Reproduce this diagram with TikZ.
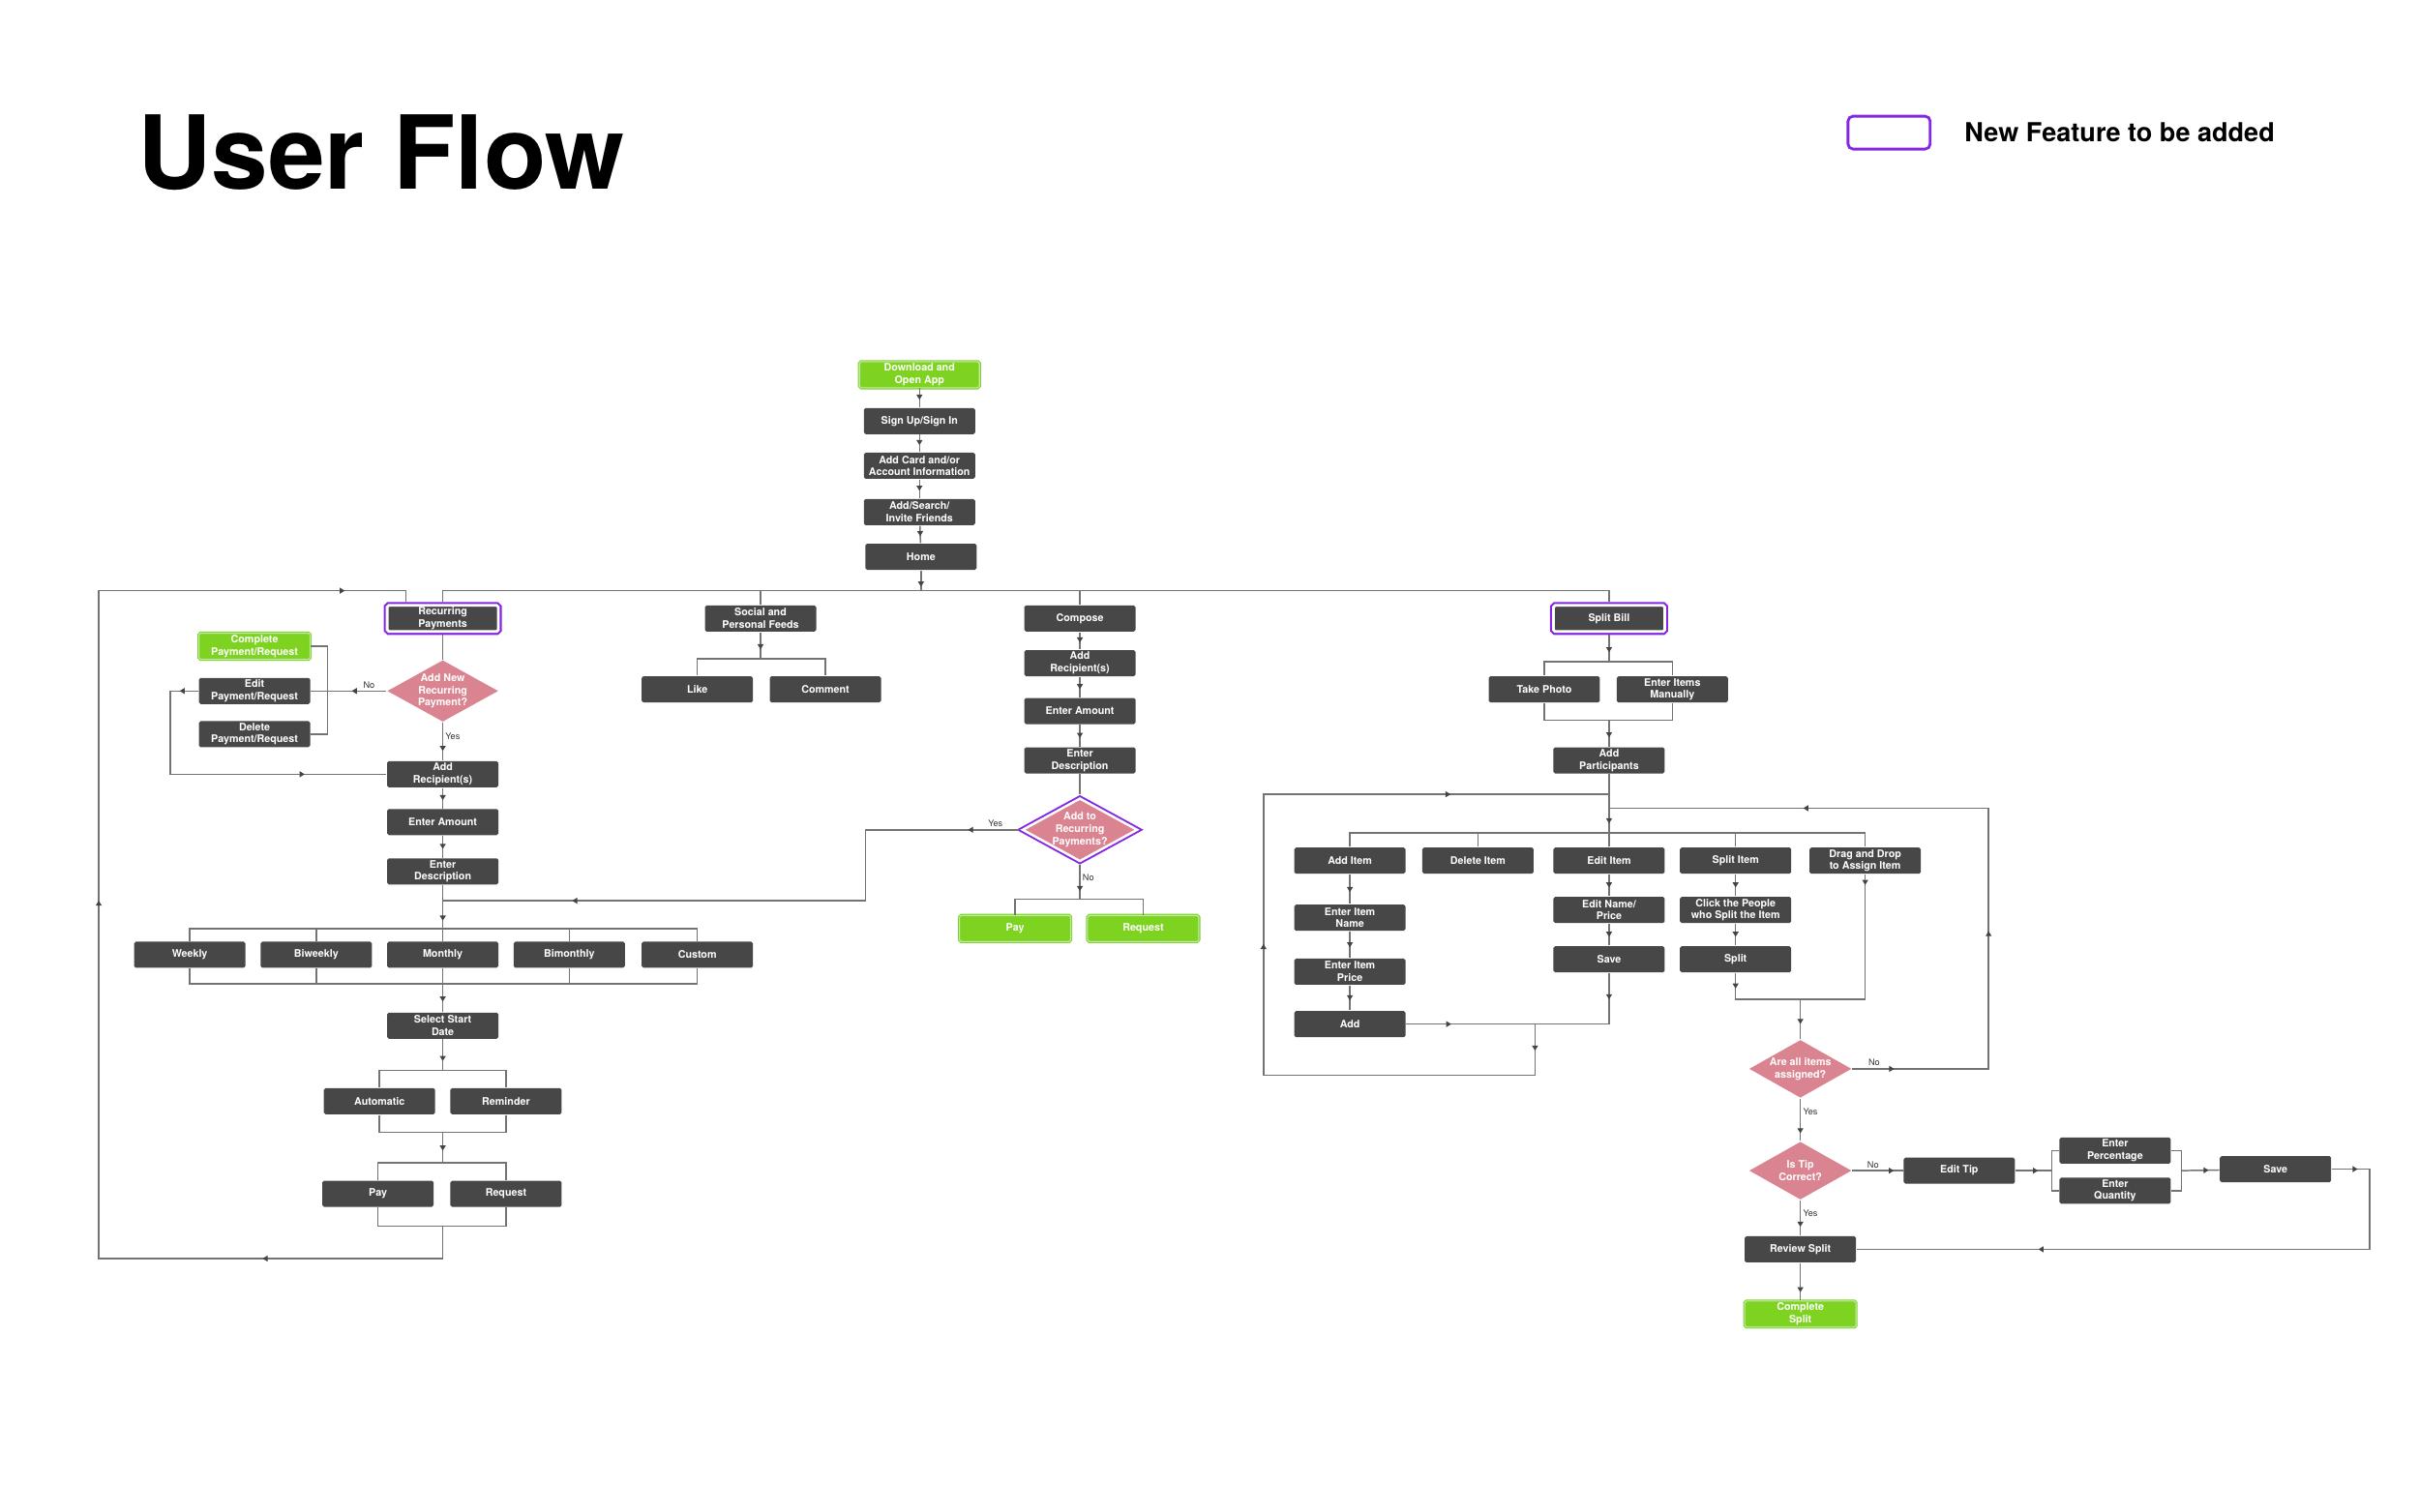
\documentclass[tikz,border=0pt]{standalone}
\usepackage{fontspec}
\setmainfont{TeX Gyre Heros}
\usepackage{tikz}
\usetikzlibrary{positioning,arrows.meta,shapes.geometric,calc,decorations.markings}
\definecolor{boxgray}{RGB}{71,71,71}
\definecolor{linegray}{RGB}{115,115,115}
\definecolor{tipgray}{RGB}{68,68,68}
\definecolor{flowgreen}{RGB}{126,211,33}
\definecolor{greenedge}{RGB}{128,210,50}
\definecolor{greenlt}{RGB}{196,236,160}
\definecolor{featpurple}{RGB}{132,38,226}
\definecolor{askpink}{RGB}{218,132,145}
\newcommand{\boxfont}{\fontsize{3.05}{3.6}\selectfont\bfseries}
\newcommand{\lblfont}{\fontsize{2.6}{3}\selectfont}
\tikzset{
    stepbox/.style={rectangle,rounded corners=0.5pt,fill=boxgray,text=white,font=\boxfont,align=center,minimum width=1.15cm,minimum height=0.27cm,inner sep=0pt},
    donebox/.style={stepbox,fill=flowgreen,draw=greenedge,double=greenlt,line width=0.3pt,double distance=0.3pt},
    newbox/.style={stepbox,preaction={draw=featpurple,line width=2pt},draw=white,line width=0.8pt,outer sep=1pt},
    ask/.style={diamond,aspect=1.8,fill=askpink,text=white,font=\boxfont,align=center,minimum width=1.06cm,minimum height=0.6cm,inner sep=0pt},
    newask/.style={ask,preaction={draw=featpurple,line width=1.8pt},draw=white,line width=0.7pt,outer sep=0.9pt},
    flow/.style={draw=linegray,line width=0.42pt},
    tip/.style={postaction={decorate,decoration={markings,mark=at position #1 with {\arrow{Triangle[length=1.5pt,width=1.7pt,color=tipgray]}}}}},
    lbl/.style={font=\lblfont,text=black!80,inner sep=0.6pt},
}

\begin{document}
\begin{tikzpicture}[x=0.015944cm,y=-0.015944cm]
\useasboundingbox (0,0) rectangle (1568,980);

% title and legend
\node[anchor=west,inner sep=0pt,font=\fontsize{30}{30}\selectfont\bfseries] (title) at (89,99) {User Flow};
\node[draw=featpurple,line width=0.8pt,rounded corners=1.5pt,minimum width=0.85cm,minimum height=0.34cm,inner sep=0pt] (legend) at (1224.5,86) {};
\node[anchor=west,inner sep=0pt,font=\fontsize{7.7}{8}\selectfont\bfseries] (legendtext) at (1273,86) {New Feature to be added};

% entry column
\node[donebox,minimum width=1.24cm] (dl) at (596,243) {Download and\\Open App};
\node[stepbox] (signin)  at (596,273) {Sign Up/Sign In};
\node[stepbox] (card)    at (596,302) {Add Card and/or\\Account Information};
\node[stepbox] (friends) at (596,332) {Add/Search/\\Invite Friends};
\node[stepbox] (home)    at (597,361) {Home};
\coordinate (bus) at (597,383);

\draw[flow,tip=0.6] (dl) -- (signin);
\draw[flow,tip=0.6] (signin) -- (card);
\draw[flow,tip=0.6] (card) -- (friends);
\draw[flow,tip=0.6] (friends) -- (home);
\draw[flow,tip=0.8] (home) -- (bus);

% main branches
\node[newbox]  (recur)   at (287,401)  {Recurring\\Payments};
\node[stepbox] (social)  at (493,401)  {Social and\\Personal Feeds};
\node[stepbox] (compose) at (700,401)  {Compose};
\node[newbox]  (split)   at (1043,401) {Split Bill};

\draw[flow] (recur.north) -- (recur.north |- bus) -- (split.north |- bus) -- (split.north);
\draw[flow] (social.north) -- (social.north |- bus);
\draw[flow] (compose.north) -- (compose.north |- bus);

% recurring payments
\node[ask]      (newrec) at (287,448) {Add New\\Recurring\\Payment?};
\node[donebox]  (donepr) at (165,419) {Complete\\Payment/Request};
\node[stepbox]  (editpr) at (165,448) {Edit\\Payment/Request};
\node[stepbox]  (delpr)  at (165,476) {Delete\\Payment/Request};
\node[stepbox]  (recip)  at (287,502) {Add\\Recipient(s)};
\node[stepbox]  (amount) at (287,533) {Enter Amount};
\node[stepbox]  (descr)  at (287,565) {Enter\\Description};

\draw[flow] (recur) -- (newrec);
\draw[flow,tip=0.46] (newrec) -- node[lbl,above,pos=0.23]{No} (editpr);
\draw[flow] (donepr.east) -- ++(11,0) |- (delpr.east);
\draw[flow,tip=0.057,tip=0.75] (editpr.west) -- ++(-18,0) |- (recip.west);
\draw[flow,tip=0.75] (newrec) -- node[lbl,right,pos=0.36]{Yes} (recip);
\draw[flow,tip=0.6] (recip) -- (amount);
\draw[flow,tip=0.6] (amount) -- (descr);

% frequency
\coordinate (freqtop) at (287,602);
\coordinate (freqbot) at (287,638);
\node[stepbox] (weekly)    at (123,619) {Weekly};
\node[stepbox] (biweekly)  at (205,619) {Biweekly};
\node[stepbox] (monthly)   at (287,619) {Monthly};
\node[stepbox] (bimonthly) at (369,619) {Bimonthly};
\node[stepbox] (custom)    at (452,619) {Custom};

\draw[flow,tip=0.82] (descr) -- (freqtop);
\draw[flow] (weekly.north) |- (custom.north |- freqtop) -- (custom.north);
\draw[flow] (weekly.south) |- (custom.south |- freqbot) -- (custom.south);
\foreach \f in {biweekly,monthly,bimonthly} {
    \draw[flow] (\f.north) -- (\f.north |- freqtop);
    \draw[flow] (\f.south) -- (\f.south |- freqbot);
}

\node[stepbox] (start) at (287,665) {Select Start\\Date};
\draw[flow,tip=0.63] (freqbot) -- (start);

\coordinate (modetop) at (287,694);
\coordinate (modebot) at (287,734);
\node[stepbox] (auto)   at (246,714) {Automatic};
\node[stepbox] (remind) at (328,714) {Reminder};
\draw[flow,tip=0.7] (start) -- (modetop);
\draw[flow] (auto.north) |- (remind.north |- modetop) -- (remind.north);
\draw[flow] (auto.south) |- (remind.south |- modebot) -- (remind.south);

\coordinate (paytop) at (287,754);
\coordinate (paybot) at (287,795);
\node[stepbox] (pay)     at (245,774) {Pay};
\node[stepbox] (request) at (328,774) {Request};
\draw[flow,tip=0.6] (modebot) -- (paytop);
\draw[flow] (pay.north) |- (request.north |- paytop) -- (request.north);
\draw[flow] (pay.south) |- (request.south |- paybot) -- (request.south);

% back to recurring payments
\coordinate (loopbl) at (64,816);
\coordinate (looptl) at (64,383);
\draw[flow,tip=0.156,tip=0.539,tip=0.947] (paybot) |- (loopbl) -- (looptl) -| ($(recur.north)+(-24,0)$);

% social feeds
\coordinate (feedtop) at (493,427);
\node[stepbox] (like)    at (452,447) {Like};
\node[stepbox] (comment) at (535,447) {Comment};
\draw[flow,tip=0.65] (social) -- (feedtop);
\draw[flow] (like.north) |- (comment.north |- feedtop) -- (comment.north);

% compose
\node[stepbox] (recip2)  at (700,430) {Add\\Recipient(s)};
\node[stepbox] (amount2) at (700,461) {Enter Amount};
\node[stepbox] (descr2)  at (700,493) {Enter\\Description};
\node[newask,minimum width=1.12cm,minimum height=0.62cm] (addrec) at (700,538) {Add to\\Recurring\\Payments?};
\draw[flow,tip=0.6] (compose) -- (recip2);
\draw[flow,tip=0.6] (recip2) -- (amount2);
\draw[flow,tip=0.6] (amount2) -- (descr2);
\draw[flow] (descr2) -- (addrec);

\coordinate (yesturn) at (561,538);
\coordinate (yesjoin) at (287,584);
\draw[flow,tip=0.078,tip=0.8] (addrec.west) -- node[lbl,above,pos=0.15]{Yes} (yesturn) |- (yesjoin);

\coordinate (paytop2) at (700,583);
\node[donebox] (pay2)     at (658,602) {Pay};
\node[donebox] (request2) at (741,602) {Request};
\draw[flow,tip=0.76] (addrec) -- node[lbl,right,pos=0.36]{No} (paytop2);
\draw[flow] (pay2.north) |- (request2.north |- paytop2) -- (request2.north);

% split bill
\coordinate (srctop) at (1043,429);
\coordinate (srcbot) at (1043,467);
\node[stepbox] (photo)  at (1001,447) {Take Photo};
\node[stepbox] (manual) at (1084,447) {Enter Items\\Manually};
\draw[flow,tip=0.65] (split) -- (srctop);
\draw[flow] (photo.north) |- (manual.north |- srctop) -- (manual.north);
\draw[flow] (photo.south) |- (manual.south |- srcbot) -- (manual.south);

\node[stepbox] (people) at (1043,493) {Add\\Participants};
\draw[flow,tip=0.65] (srcbot) -- (people);

\coordinate (itemtop) at (1043,540);
\draw[flow,tip=0.84] (people) -- (itemtop);
\node[stepbox] (additem)   at (875,558)  {Add Item};
\node[stepbox] (delitem)   at (958,558)  {Delete Item};
\node[stepbox] (edititem)  at (1043,558) {Edit Item};
\node[stepbox] (splititem) at (1125,558) {Split Item};
\node[stepbox] (dragitem)  at (1209,558) {Drag and Drop\\to Assign Item};
\draw[flow] (additem.north) |- (dragitem.north |- itemtop) -- (dragitem.north);
\foreach \f in {delitem,edititem,splititem}
    \draw[flow] (\f.north) -- (\f.north |- itemtop);

\node[stepbox] (itemname)   at (875,595)  {Enter Item\\Name};
\node[stepbox] (itemprice)  at (875,630)  {Enter Item\\Price};
\node[stepbox] (addbtn)     at (875,664)  {Add};
\node[stepbox] (editname)   at (1043,590) {Edit Name/\\Price};
\node[stepbox] (saveitem)   at (1043,622) {Save};
\node[stepbox] (pickpeople) at (1125,590) {Click the People\\who Split the Item};
\node[stepbox] (splitbtn)   at (1125,622) {Split};

\draw[flow,tip=0.6] (additem) -- (itemname);
\draw[flow,tip=0.6] (itemname) -- (itemprice);
\draw[flow,tip=0.6] (itemprice) -- (addbtn);
\draw[flow,tip=0.6] (edititem) -- (editname);
\draw[flow,tip=0.6] (editname) -- (saveitem);
\draw[flow,tip=0.6] (splititem) -- (pickpeople);
\draw[flow,tip=0.6] (pickpeople) -- (splitbtn);

% back to the item list
\coordinate (addjoin) at (995,664);
\coordinate (itemloopbl) at (819,697);
\coordinate (itemloop) at (1043,515);
\draw[flow,tip=0.35] (addbtn.east) -- (addjoin);
\draw[flow,tip=0.21] (saveitem.south) |- (addjoin);
\draw[flow,tip=0.028,tip=0.478,tip=0.833] (addjoin) |- (itemloopbl) |- (itemloop);

% assignment check
\coordinate (assignjoin) at (1167,648);
\draw[flow,tip=0.17] (splitbtn.south) |- (assignjoin);
\draw[flow,tip=0.056] (dragitem.south) |- (assignjoin);
\node[ask] (assigned) at (1167,693) {Are all items\\assigned?};
\draw[flow,tip=0.62] (assignjoin) -- (assigned);

\coordinate (retryturn) at (1289,693);
\coordinate (retry) at (1043,524);
\draw[flow,tip=0.054,tip=0.353,tip=0.75] (assigned.east) -- node[lbl,above,pos=0.16]{No} (retryturn) |- (retry);

% tip
\node[ask] (tipok) at (1167,759) {Is Tip\\Correct?};
\draw[flow,tip=0.82] (assigned) -- node[lbl,right,pos=0.32]{Yes} (tipok);
\node[stepbox] (edittip) at (1270,759) {Edit Tip};
\draw[flow,tip=0.82] (tipok) -- node[lbl,above,pos=0.41]{No} (edittip);

\coordinate (tipin)  at (1330,759);
\coordinate (tipout) at (1414,759);
\node[stepbox] (percent) at (1371,746) {Enter\\Percentage};
\node[stepbox] (qty)     at (1371,772) {Enter\\Quantity};
\draw[flow,tip=0.62] (edittip) -- (tipin);
\draw[flow] (percent.west) -| (tipin) |- (qty.west);
\draw[flow] (percent.east) -| (tipout) |- (qty.east);

\node[stepbox] (savetip) at (1475,758) {Save};
\draw[flow,tip=0.72] (tipout) -- (savetip);

\node[stepbox] (review) at (1167,810) {Review Split};
\coordinate (tipturn) at (1536,758);
\draw[flow,tip=0.041,tip=0.712] (savetip.east) -- (tipturn) |- (review.east);
\draw[flow,tip=0.75] (tipok) -- node[lbl,right,pos=0.38]{Yes} (review);

\node[donebox] (donesplit) at (1167,852) {Complete\\Split};
\draw[flow,tip=0.78] (review) -- (donesplit);
\end{tikzpicture}
\end{document}
